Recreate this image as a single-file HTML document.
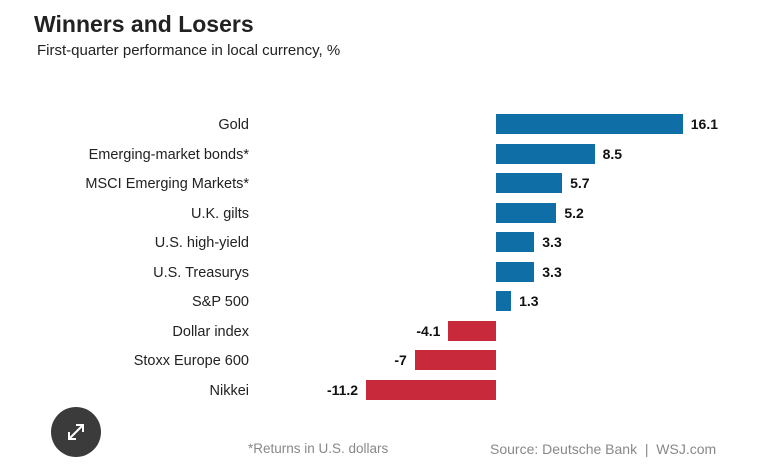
<!DOCTYPE html>
<html><head><meta charset="utf-8"><style>
body{margin:0;width:771px;height:476px;background:#fff;font-family:"Liberation Sans",Arial,sans-serif;position:relative;overflow:hidden}
.t{position:absolute;left:34px;top:11px;font-size:23px;font-weight:bold;color:#222}
.s{position:absolute;left:37px;top:42px;font-size:15px;color:#222}
.l{position:absolute;right:522px;font-size:14.5px;color:#222;white-space:nowrap;line-height:20px}
.b{position:absolute;height:20px}
.v{position:absolute;font-size:14px;font-weight:bold;color:#111;line-height:20px}
.f{position:absolute;top:441px;font-size:13.5px;color:#888}
</style></head><body>
<div class="t">Winners and Losers</div>
<div class="s">First-quarter performance in local currency, %</div>
<div id="c"></div>
<div class="f" style="left:248px">*Returns in U.S. dollars</div>
<div class="f" style="left:490px;font-size:14px">Source: Deutsche Bank &nbsp;|&nbsp; WSJ.com</div>
<svg style="position:absolute;left:51px;top:407px" width="50" height="50"><circle cx="25" cy="25" r="25" fill="#3b3b3b"/><path d="M18 32 L32 18 M25 18 H32 V25 M18 25 V32 H25" stroke="#fff" stroke-width="2" fill="none"/></svg>
<script>
var d=[["Gold",16.1],["Emerging-market bonds*",8.5],["MSCI Emerging Markets*",5.7],["U.K. gilts",5.2],["U.S. high-yield",3.3],["U.S. Treasurys",3.3],["S&P 500",1.3],["Dollar index",-4.1],["Stoxx Europe 600",-7],["Nikkei",-11.2]];
var h="",z=496,k=11.6;
d.forEach(function(r,i){var y=114+i*29.5,w=Math.abs(r[1])*k;
h+='<div class="l" style="top:'+(y+1)+'px">'+r[0].replace("&","&amp;")+'</div>';
if(r[1]>0){h+='<div class="b" style="left:'+z+'px;top:'+y+'px;width:'+w+'px;background:#0f6ea6"></div><div class="v" style="left:'+(z+w+8)+'px;top:'+y+'px">'+r[1]+'</div>';}
else{h+='<div class="b" style="left:'+(z-w)+'px;top:'+y+'px;width:'+w+'px;background:#c82a3b"></div><div class="v" style="right:'+(771-(z-w)+8)+'px;top:'+y+'px">'+r[1]+'</div>';}
});
document.getElementById("c").innerHTML=h;
</script>
</body></html>
